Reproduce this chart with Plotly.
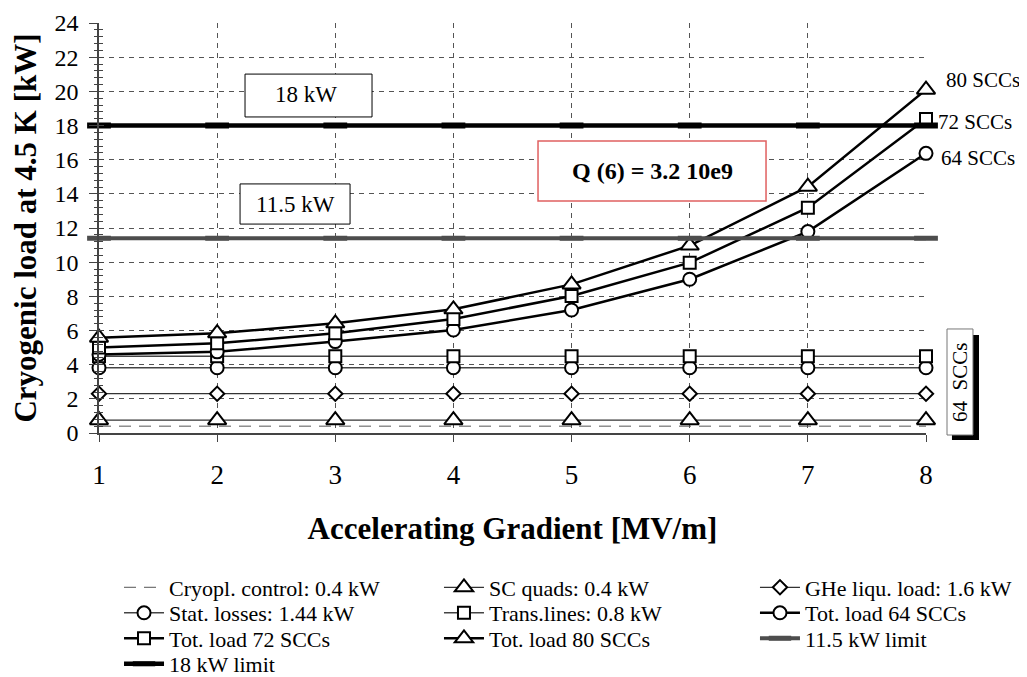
import plotly.graph_objects as go

gradient = [1, 2, 3, 4, 5, 6, 7, 8]
cryopl_control = [0.4, 0.4, 0.4, 0.4, 0.4, 0.4, 0.4, 0.4]
sc_quads = [0.75, 0.75, 0.75, 0.75, 0.75, 0.75, 0.75, 0.75]
ghe_liqu = [2.3, 2.3, 2.3, 2.3, 2.3, 2.3, 2.3, 2.3]
stat_losses = [3.82, 3.82, 3.82, 3.82, 3.82, 3.82, 3.82, 3.82]
trans_lines = [4.5, 4.5, 4.5, 4.5, 4.5, 4.5, 4.5, 4.5]
tot_64 = [4.6, 4.75, 5.35, 6.03, 7.2, 9.0, 11.79, 16.37]
tot_72 = [5.0, 5.25, 5.84, 6.67, 8.02, 9.97, 13.19, 18.38]
tot_80 = [5.58, 5.84, 6.42, 7.24, 8.7, 10.97, 14.42, 20.1]
limit_115 = [11.4] * 8
limit_18 = [18.0] * 8

FONT = "Liberation Serif"

# legend grid: (column x in paper, row y in paper)
COLS = [0.0242, 0.4111, 0.7932]
ROWS = [-0.3768, -0.4390, -0.5012, -0.5634]

fig = go.Figure()
legend_layout = {}
counter = [0]


def legend_id(col, row):
    counter[0] += 1
    lid = "legend" if counter[0] == 1 else f"legend{counter[0]}"
    legend_layout[lid] = dict(x=COLS[col], y=ROWS[row], xanchor="left", yanchor="middle",
                              orientation="v", bgcolor="rgba(0,0,0,0)",
                              font=dict(family=FONT, size=22, color="black"),
                              itemwidth=40)
    return lid


def add(name, y, color, width, col, row, symbol=None, size=12, dash=None, mlw=2):
    mode = "lines+markers" if symbol else "lines"
    kw = dict(x=gradient, y=y, name=name, mode=mode, cliponaxis=False,
              legend=legend_id(col, row),
              line=dict(color=color, width=width, dash=dash))
    if symbol:
        kw["marker"] = dict(symbol=symbol, size=size, color="white",
                            line=dict(color="black", width=mlw))
    fig.add_trace(go.Scatter(**kw))


add("Cryopl. control: 0.4 kW", cryopl_control, "#555555", 1, 0, 0, dash="12px,8px")
add("SC quads: 0.4 kW", sc_quads, "#333333", 1.2, 1, 0, "triangle-up", 16)
add("GHe liqu. load: 1.6 kW", ghe_liqu, "#333333", 1.2, 2, 0, "diamond", 11)
add("Stat. losses: 1.44 kW", stat_losses, "#444444", 1.5, 0, 1, "circle", 13)
add("Trans.lines: 0.8 kW", trans_lines, "#444444", 1.5, 1, 1, "square", 12)
add("Tot. load 64 SCCs", tot_64, "black", 2.5, 2, 1, "circle", 13)
add("Tot. load 72 SCCs", tot_72, "black", 2.5, 0, 2, "square", 12)
add("Tot. load 80 SCCs", tot_80, "black", 2.5, 1, 2, "triangle-up", 16)

fig.add_trace(go.Scatter(x=gradient, y=limit_115, name="11.5 kW limit",
                         mode="lines+markers", cliponaxis=False, legend=legend_id(2, 2),
                         line=dict(color="#4d4d4d", width=4),
                         marker=dict(symbol="line-ew", size=17,
                                     line=dict(color="#4d4d4d", width=5))))
fig.add_trace(go.Scatter(x=gradient, y=limit_18, name="18 kW limit",
                         mode="lines+markers", cliponaxis=False, legend=legend_id(0, 3),
                         line=dict(color="black", width=4.5),
                         marker=dict(symbol="line-ew", size=17,
                                     line=dict(color="black", width=6))))

# overlay axis for inside tick portions (crossing ticks)
fig.add_trace(go.Scatter(x=[None], y=[None], yaxis="y2", showlegend=False))

shapes = [
    dict(type="rect", xref="x", yref="y", x0=2.236, x1=3.311, y0=18.5, y1=21.01,
         line=dict(color="black", width=1), fillcolor="white", layer="above"),
    dict(type="rect", xref="x", yref="y", x0=2.194, x1=3.125, y0=12.23, y1=14.58,
         line=dict(color="black", width=1), fillcolor="white", layer="above"),
    dict(type="rect", xref="x", yref="y", x0=4.716, x1=6.646, y0=13.58, y1=17.09,
         line=dict(color="#e06060", width=1.5), fillcolor="white", layer="above"),
    dict(type="rect", xref="paper", yref="paper", x0=1.0314, x1=1.0641, y0=-0.017, y1=0.239,
         line=dict(width=0), fillcolor="black", layer="above"),
    dict(type="rect", xref="paper", yref="paper", x0=1.0254, x1=1.0568, y0=-0.0049, y1=0.2537,
         line=dict(color="#777777", width=1), fillcolor="white", layer="above"),
]

annotations = [
    dict(text="18 kW", x=2.752, y=19.79, xref="x", yref="y", showarrow=False,
         font=dict(family=FONT, size=23, color="black")),
    dict(text="11.5 kW", x=2.659, y=13.40, xref="x", yref="y", showarrow=False,
         font=dict(family=FONT, size=23, color="black")),
    dict(text="<b>Q (6) = 3.2 10e9</b>", x=5.681, y=15.34, xref="x", yref="y", showarrow=False,
         font=dict(family=FONT, size=24, color="black")),
    dict(text="80 SCCs", x=gradient[-1], y=tot_80[-1], xref="x", yref="y", showarrow=False,
         xanchor="left", xshift=18, yshift=10, font=dict(family=FONT, size=21, color="black")),
    dict(text="72 SCCs", x=gradient[-1], y=tot_72[-1], xref="x", yref="y", showarrow=False,
         xanchor="left", xshift=10, yshift=-3, font=dict(family=FONT, size=21, color="black")),
    dict(text="64 SCCs", x=gradient[-1], y=tot_64[-1], xref="x", yref="y", showarrow=False,
         xanchor="left", xshift=13, yshift=-5, font=dict(family=FONT, size=21, color="black")),
    dict(text="64  SCCs", x=1.0411, y=0.1244, xref="paper", yref="paper", showarrow=False,
         xanchor="center", yanchor="middle",
         textangle=-90, font=dict(family=FONT, size=21, color="black")),
]

# the page body has an 8 px margin: the figure is 1019x669 and sits at (8, 8)
fig.update_layout(
    width=1019, height=669,
    margin=dict(l=91, r=101, t=15, b=244, autoexpand=False),
    paper_bgcolor="white", plot_bgcolor="white",
    font=dict(family=FONT, color="black"),
    shapes=shapes, annotations=annotations,
    xaxis=dict(range=[1, 8], tickvals=gradient, showgrid=True, gridcolor="#555555",
               griddash="5px,5px", gridwidth=1, zeroline=False,
               showline=True, linecolor="#444444", linewidth=1.5,
               ticks="outside", ticklen=7, tickcolor="#444444",
               tickfont=dict(family=FONT, size=27), ticklabelstandoff=10,
               title=dict(text="<b>Accelerating Gradient [MV/m]</b>",
                          font=dict(family=FONT, size=31), standoff=28)),
    yaxis=dict(range=[0, 24], dtick=2, showgrid=True, gridcolor="#555555",
               griddash="5px,5px", gridwidth=1, zeroline=False,
               showline=True, linecolor="#444444", linewidth=1.5,
               ticks="outside", ticklen=8, tickcolor="#444444",
               minor=dict(dtick=0.4, ticks="outside", ticklen=3, tickcolor="#444444"),
               tickfont=dict(family=FONT, size=24), ticklabelstandoff=6,
               title=dict(text="<b>Cryogenic load at 4.5 K [kW]</b>",
                          font=dict(family=FONT, size=31), standoff=10)),
    yaxis2=dict(range=[0, 24], dtick=2, overlaying="y", side="left", showgrid=False,
                zeroline=False, showticklabels=False, ticks="inside", ticklen=5,
                tickcolor="#444444",
                minor=dict(dtick=0.4, ticks="inside", ticklen=4, tickcolor="#444444")),
    showlegend=True,
)
fig.update_layout(**legend_layout)

fig.write_html("out.html")
